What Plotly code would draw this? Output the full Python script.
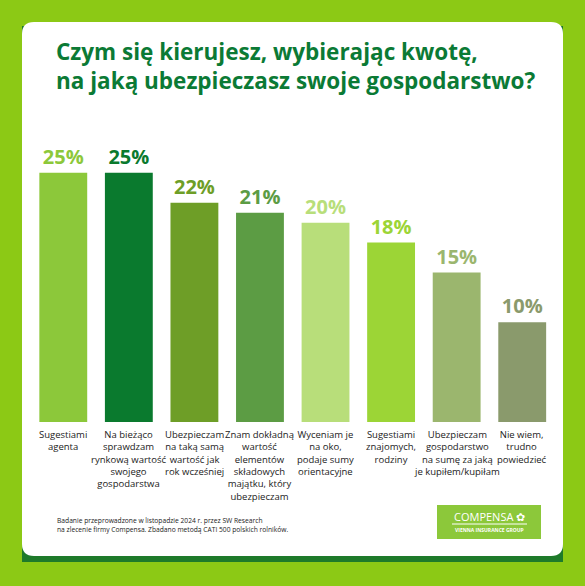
import plotly.graph_objects as go

categories = ["Sugestiami<br>agenta",
              "Na bieżąco<br>sprawdzam<br>rynkową wartość<br>swojego<br>gospodarstwa",
              "Ubezpieczam<br>na taką samą<br>wartość jak<br>rok wcześniej",
              "Znam dokładną<br>wartość<br>elementów<br>składowych<br>majątku, który<br>ubezpieczam",
              "Wyceniam je<br>na oko,<br>podaje sumy<br>orientacyjne",
              "Sugestiami<br>znajomych,<br>rodziny",
              "Ubezpieczam<br>gospodarstwo<br>na sumę za jaką<br>je kupiłem/kupiłam",
              "Nie wiem,<br>trudno<br>powiedzieć"]
values = [25, 25, 22, 21, 20, 18, 15, 10]
colors = ["#8cc83a", "#0a7a2e", "#6e9e27", "#5c9c44", "#b8de7a", "#9cd536", "#9bb66e", "#8a9a6c"]

W, H = 585, 586
def px(x): return x / W
def py(y): return 1 - y / H

fig = go.Figure(go.Bar(
    x=list(range(len(values))), y=values, width=0.73,
    marker=dict(color=colors, line=dict(width=0)),
    text=[f"<b>{v}%</b>" for v in values], textposition="outside",
    textfont=dict(family="Open Sans", size=20, color=colors),
    cliponaxis=False, hoverinfo="skip"))

shapes = [
    dict(type="rect", xref="paper", yref="paper", x0=px(22), x1=px(563), y0=py(562), y1=py(26),
         fillcolor="#1e7a2a", line=dict(width=0), layer="below"),
    dict(type="path", xref="paper", yref="paper", layer="below", fillcolor="white", line=dict(width=0),
         path=f"M {px(34)} {py(22)} L {px(551)} {py(22)} Q {px(563)} {py(22)} {px(563)} {py(34)} "
              f"L {px(563)} {py(544)} Q {px(563)} {py(556)} {px(551)} {py(556)} L {px(34)} {py(556)} "
              f"Q {px(22)} {py(556)} {px(22)} {py(544)} L {px(22)} {py(34)} Q {px(22)} {py(22)} {px(34)} {py(22)} Z"),
    dict(type="rect", xref="paper", yref="paper", x0=px(437), x1=px(541), y0=py(539), y1=py(505),
         fillcolor="#8cc83a", line=dict(width=0)),
    dict(type="line", xref="paper", yref="paper", x0=px(452), x1=px(527), y0=py(524), y1=py(524),
         line=dict(color="white", width=1)),
]

annotations = [
    dict(text="<b>Czym się kierujesz, wybierając kwotę,<br>na jaką ubezpieczasz swoje gospodarstwo?</b>",
         xref="paper", yref="paper", x=px(54), y=py(34), xanchor="left", yanchor="top", align="left",
         showarrow=False, font=dict(family="Open Sans", size=22.5, color="#0b7a35")),
    dict(text="Badanie przeprowadzone w listopadzie 2024 r. przez SW Research<br>na zlecenie firmy Compensa. Zbadano metodą CATI 500 polskich rolników.",
         xref="paper", yref="paper", x=px(55), y=py(514), xanchor="left", yanchor="top", align="left",
         showarrow=False, font=dict(family="Open Sans", size=6.7, color="#222")),
    dict(text="COMPENSA ✿", xref="paper", yref="paper", x=px(489), y=py(516), xanchor="center", yanchor="middle",
         showarrow=False, font=dict(family="Open Sans", size=11, color="white")),
    dict(text="<b>VIENNA INSURANCE GROUP</b>", xref="paper", yref="paper", x=px(489), y=py(530), xanchor="center",
         yanchor="middle", showarrow=False, font=dict(family="Open Sans", size=5, color="white")),
]
for i, c in enumerate(categories):
    annotations.append(dict(text=c, x=i, xref="x", y=py(426), yref="paper", yanchor="top", xanchor="center",
                            showarrow=False, align="center",
                            font=dict(family="Open Sans", size=9.5, color="#222")))

fig.update_layout(
    width=W, height=H, margin=dict(l=0, r=0, t=0, b=0),
    paper_bgcolor="#8cc915", plot_bgcolor="rgba(0,0,0,0)",
    xaxis=dict(domain=[px(30.5), px(555)], range=[-0.5, 7.5], visible=False, fixedrange=True),
    yaxis=dict(domain=[py(422), py(123)], range=[0, 30], visible=False, fixedrange=True),
    shapes=shapes, annotations=annotations, showlegend=False, bargap=0.27,
)
fig.write_html("out.html", config={"displayModeBar": False},
               post_script="document.body.style.margin='0';document.body.style.background='#8cc915';")
